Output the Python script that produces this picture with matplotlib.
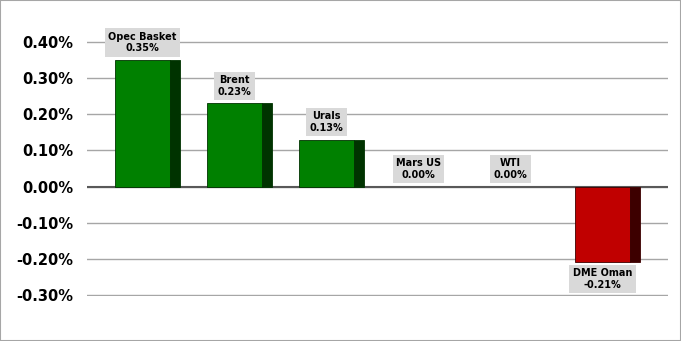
import matplotlib.pyplot as plt
from matplotlib.patches import Rectangle

names = ["Opec Basket", "Brent", "Urals", "Mars US", "WTI", "DME Oman"]
changes = [0.35, 0.23, 0.13, 0.00, 0.00, -0.21]
yticks = [0.40, 0.30, 0.20, 0.10, 0.00, -0.10, -0.20, -0.30]

fig = plt.figure(figsize=(6.81, 3.41), dpi=100)
fig.patches.append(Rectangle((0, 0), 1, 1, transform=fig.transFigure,
                             fill=False, ec="#a6a6a6", lw=1.5))
ax = fig.add_axes([87 / 681, 1 - 296 / 341, 581 / 681, 255 / 341])

front_w, side_w = 0.598, 0.108
left = -0.353
for i, v in enumerate(changes):
    if v >= 0:
        face, side = "#008000", "#003300"
    else:
        face, side = "#c00000", "#3d0000"
    if v != 0:
        ax.bar(i + left, v, width=front_w, align="edge", color=face,
               edgecolor=side, linewidth=0.6, zorder=3)
        ax.bar(i + left + front_w, v, width=side_w, align="edge", color=side,
               edgecolor=side, linewidth=0.6, zorder=3)
    cx = i + left + front_w / 2
    label = f"{names[i]}\n{v:.2f}%"
    if v >= 0:
        off, va = (0, 5), "bottom"
    else:
        off, va = (0, -4), "top"
    ax.annotate(label, xy=(cx, v), xytext=off, textcoords="offset points",
                ha="center", va=va, fontsize=7, fontweight="bold",
                multialignment="center", zorder=4,
                bbox=dict(boxstyle="square,pad=0.35", fc="#d9d9d9", ec="none"))

ax.set_xlim(-0.658, 5.658)
ax.set_ylim(-0.303, 0.403)
ax.set_yticks(yticks)
ax.set_yticklabels([f"{t:.2f}%" for t in yticks], fontsize=10.5, fontweight="bold")
ax.set_xticks([])
ax.tick_params(axis="y", length=0, pad=10)
ax.grid(axis="y", color="#a6a6a6", linewidth=1, zorder=0)
ax.axhline(0, color="#595959", linewidth=1.5, zorder=2)
for s in ax.spines.values():
    s.set_visible(False)

fig.savefig("out.png", dpi=100)
